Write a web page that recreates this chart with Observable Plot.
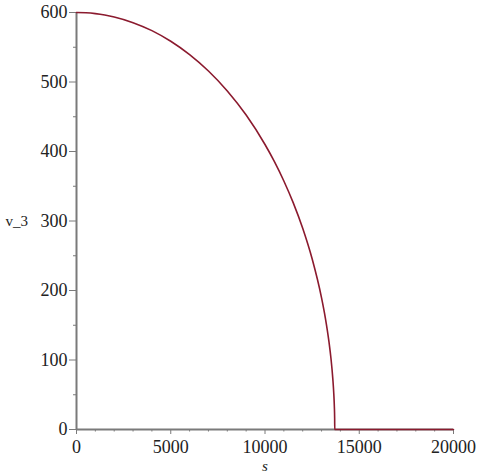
<!DOCTYPE html>
<html>
<head>
<meta charset="utf-8">
<script src="https://cdn.jsdelivr.net/npm/d3@7"></script>
<script src="https://cdn.jsdelivr.net/npm/@observablehq/plot@0.6"></script>
<style>
  body { margin: 0; background: #fff; }
</style>
</head>
<body>
<div id="chart"></div>
<script>
// values
const sValues = [0, 500, 1000, 1500, 2000, 3000, 4000, 5000, 6000, 7000, 8000, 9000, 10000, 10500, 11000, 11500, 12000, 12500, 13000, 13200, 13400, 13500, 13600, 13650, 13680, 13695, 13700, 20000];
const vValues = [600, 599.6, 598.4, 596.4, 593.6, 585.4, 573.9, 558.6, 539.4, 515.8, 487.1, 452.4, 410.1, 385.4, 357.6, 326.1, 289.5, 245.6, 189.4, 160.7, 124.9, 102.2, 72.2, 51.2, 32.4, 16.2, 0, 0];
const xMajorTicks = [0, 5000, 10000, 15000, 20000];
const xMinorTicks = [1000, 2000, 3000, 4000, 6000, 7000, 8000, 9000, 11000, 12000, 13000, 14000, 16000, 17000, 18000, 19000];
const yMajorTicks = [0, 100, 200, 300, 400, 500, 600];
const yMinorTicks = [50, 150, 250, 350, 450, 550];
const xLabel = "s";
const yLabel = "v_3";

const data = sValues.map((s, i) => ({s, v: vValues[i]}));
const axisColor = "#7a7a7a";
const textColor = "#222";
const font = "Liberation Serif, Times New Roman, serif";

const chart = Plot.plot({
  width: 480,
  height: 476,
  marginLeft: 76,
  marginRight: 27,
  marginTop: 12,
  marginBottom: 47,
  style: {fontFamily: font, background: "#fff", color: textColor},
  x: {domain: [0, 20000]},
  y: {domain: [0, 600]},
  marks: [
    Plot.axisY({ticks: yMajorTicks, tickSize: 7, tickPadding: 2, fontSize: 18, label: null, stroke: axisColor, color: textColor, tickFormat: d => String(d)}),
    Plot.axisY({ticks: yMinorTicks, tickSize: 3, text: null, label: null, stroke: axisColor}),
    Plot.axisX({ticks: xMajorTicks, tickSize: 5, tickPadding: 6, fontSize: 18, label: null, stroke: axisColor, tickFormat: d => String(d)}),
    Plot.axisX({ticks: xMinorTicks, tickSize: 2.5, text: null, label: null, stroke: axisColor}),
    Plot.ruleX([0], {stroke: axisColor, strokeWidth: 2}),
    Plot.ruleY([0], {stroke: axisColor, strokeWidth: 2}),
    Plot.line(data, {x: "s", y: "v", stroke: "#8b1a2e", strokeWidth: 1.6, curve: "monotone-x"}),
    Plot.text([yLabel], {frameAnchor: "left", dx: -71, textAnchor: "start", fontSize: 15, fill: textColor}),
    Plot.text([xLabel], {frameAnchor: "bottom", dy: 31, lineAnchor: "top", fontSize: 15, fontStyle: "italic", fill: textColor})
  ]
});
document.getElementById("chart").appendChild(chart);
</script>
</body>
</html>
